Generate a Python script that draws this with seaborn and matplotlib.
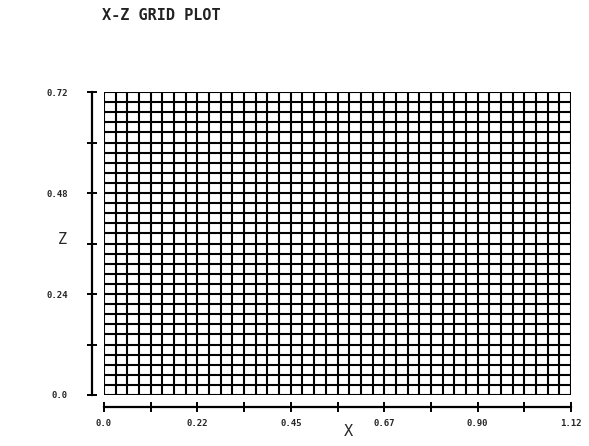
import numpy as np
import pandas as pd
import matplotlib
matplotlib.use("Agg")
import matplotlib.pyplot as plt
import seaborn as sns

# ---- data ----
title = "X-Z GRID PLOT"
x_grid = [0.0, 0.0281, 0.0563, 0.0844, 0.1125, 0.1406, 0.1688, 0.1969, 0.225,
          0.2531, 0.2813, 0.3094, 0.3375, 0.3656, 0.3938, 0.4219, 0.45, 0.4781,
          0.5063, 0.5344, 0.5625, 0.5906, 0.6188, 0.6469, 0.675, 0.7031, 0.7313,
          0.7594, 0.7875, 0.8156, 0.8438, 0.8719, 0.9, 0.9281, 0.9563, 0.9844,
          1.0125, 1.0406, 1.0688, 1.0969, 1.125]
z_grid = [0.0, 0.024, 0.048, 0.072, 0.096, 0.12, 0.144, 0.168, 0.192, 0.216,
          0.24, 0.264, 0.288, 0.312, 0.336, 0.36, 0.384, 0.408, 0.432, 0.456,
          0.48, 0.504, 0.528, 0.552, 0.576, 0.6, 0.624, 0.648, 0.672, 0.696, 0.72]
x_ticks = [0.0, 0.225, 0.45, 0.675, 0.9, 1.125]
x_tick_labels = ["0.0", "0.22", "0.45", "0.67", "0.90", "1.12"]
x_minor = [0.1125, 0.3375, 0.5625, 0.7875, 1.0125]
z_ticks = [0.0, 0.24, 0.48, 0.72]
z_tick_labels = ["0.0", "0.24", "0.48", "0.72"]
z_minor = [0.12, 0.36, 0.6]

# ---- build segment table ----
x_min, x_max = x_grid[0], x_grid[-1]
z_min, z_max = z_grid[0], z_grid[-1]
rows = []
for i, xv in enumerate(x_grid):
    rows.append(dict(x=xv, z=z_min, line=f"v{i}"))
    rows.append(dict(x=xv, z=z_max, line=f"v{i}"))
for j, zv in enumerate(z_grid):
    rows.append(dict(x=x_min, z=zv, line=f"h{j}"))
    rows.append(dict(x=x_max, z=zv, line=f"h{j}"))
df = pd.DataFrame(rows)

sns.set_style("ticks")
plt.rcParams["font.family"] = ["DejaVu Sans Mono", "DejaVu Sans"]

fig = plt.figure(figsize=(5.89, 4.46), dpi=100)
ax = fig.add_axes([104 / 589, 51 / 446, 467 / 589, 303 / 446])

sns.lineplot(data=df, x="x", y="z", units="line", estimator=None, sort=False,
             color="black", linewidth=1.5, ax=ax, legend=False)

ax.set_xlim(x_min, x_max)
ax.set_ylim(z_min, z_max)
ax.margins(0)

sns.despine(ax=ax, offset=8.6)
ax.spines["left"].set_bounds(z_ticks[0], z_ticks[-1])
ax.spines["bottom"].set_bounds(x_ticks[0], x_ticks[-1])
for s in ("left", "bottom"):
    ax.spines[s].set_linewidth(1.6)
    ax.spines[s].set_color("black")

ax.set_xticks(x_ticks)
ax.set_xticklabels(x_tick_labels)
ax.set_xticks(x_minor, minor=True)
ax.set_yticks(z_ticks)
ax.set_yticklabels(z_tick_labels)
ax.set_yticks(z_minor, minor=True)
ax.tick_params(which="both", direction="inout", length=7, width=1.4, color="black")
ax.tick_params(axis="y", which="major", pad=14, labelsize=6.5)
ax.tick_params(axis="x", which="major", pad=5, labelsize=6.5)
for lab in ax.get_xticklabels() + ax.get_yticklabels():
    lab.set_fontweight("bold")

ax.set_xlabel("X", fontsize=11, va="center")
ax.set_ylabel("Z", fontsize=11, rotation=0, va="center", ha="center")
ax.xaxis.set_label_coords((348 - 104) / 467, -(432 - 395) / 303)
ax.yaxis.set_label_coords((62 - 104) / 467, (395 - 240) / 303)

fig.text(102 / 589, 1 - 15 / 446, title, fontsize=11, ha="left", va="center",
         fontweight="bold", color="#222222")

fig.savefig("out.png", dpi=100)
